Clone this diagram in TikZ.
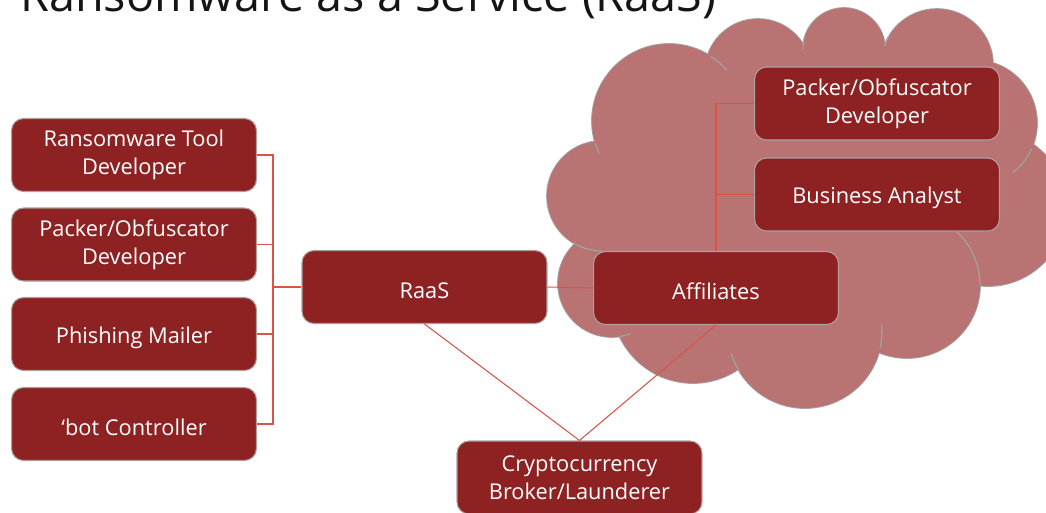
\documentclass[tikz,border=0pt]{standalone}
\usepackage{fontspec}
\setmainfont{Open Sans}
\usepackage{tikz}
\usetikzlibrary{positioning}

\definecolor{boxred}{RGB}{142,34,35}
\definecolor{boxedge}{RGB}{175,160,160}
\definecolor{tiered}{RGB}{217,83,70}
\definecolor{cloudred}{RGB}{184,115,114}
\definecolor{cloudgray}{RGB}{165,165,165}
\definecolor{titleink}{RGB}{20,20,20}

\tikzset{
  rolebox/.style={draw=boxedge, fill=boxred, text=white, line width=0.6pt,
    rounded corners=0.24cm, minimum width=4.9cm, minimum height=1.46cm,
    inner sep=0pt, align=center, font=\fontsize{12.4}{15.8}\selectfont,
    execute at begin node={\rule{0pt}{13.3pt}}},
  tie/.style={draw=tiered, line width=0.6pt},
  cloudedge/.style={draw=cloudgray, line width=1pt},
}

\begin{document}
\begin{tikzpicture}[x=0.02cm,y=-0.02cm]
\useasboundingbox (0,0) rectangle (1046,512);
\clip (0,0) rectangle (1046,512);
\node[anchor=base west, inner sep=0pt, text=titleink, font=\fontsize{26.6}{30}\selectfont] (title) at (20,11) {Ransomware as a Service (RaaS)};

\foreach \cx/\cy/\r in {602/196/55, 669/121/77, 758/72/53, 844/49/41, 937/65/56, 974/123/63, 988/208/78, 907/285/73, 805/331/77, 693/302/81, 612/283/54}
  \filldraw[cloudedge, fill=cloudred] (\cx,\cy) circle (\r);
\fill[cloudred] (602,196) -- (669,121) -- (758,72) -- (844,49) -- (937,65) -- (974,123) -- (988,208) -- (907,285) -- (805,331) -- (693,302) -- (612,283) -- cycle;
\foreach \cx/\cy/\r in {602/196/55, 669/121/77, 758/72/53, 844/49/41, 937/65/56, 974/123/63, 988/208/78, 907/285/73, 805/331/77, 693/302/81, 612/283/54}
  \fill[cloudred] (\cx,\cy) circle (\r);
\foreach \cx/\cy/\r/\a/\b in {669/121/77/163/155, 669/121/77/-57/-41, 844/49/41/179/192, 937/65/56/200/214, 974/123/63/24/52, 907/285/73/0/-47, 805/331/77/13/-5, 805/331/77/148/163, 612/283/54/82/70, 602/196/55/122/90}
  \draw[cloudedge, line width=0.6pt] (\cx,\cy) ++(\a:\r) arc[start angle=\a, end angle=\b, radius=\r];

\node[rolebox] (tooldev) at (134,155) {Ransomware Tool\\Developer};
\node[rolebox] (packleft) at (134,244.5) {Packer/Obfuscator\\Developer};
\node[rolebox] (phish) at (134,334) {Phishing Mailer};
\node[rolebox] (botctl) at (134,424) {‘bot Controller};
\node[rolebox] (raas) at (424.5,287) {RaaS};
\node[rolebox] (affil) at (716,288) {Affiliates};
\node[rolebox] (packright) at (877,103.5) {Packer/Obfuscator\\Developer};
\node[rolebox] (analyst) at (877,194.5) {Business Analyst};
\node[rolebox] (broker) at (579.5,477.5) {Cryptocurrency\\Broker/Launderer};

\draw[tie] (tooldev.east) -- ++(16,0) |- (botctl.east);
\draw[tie] (packleft.east) -- ++(16,0);
\draw[tie] (phish.east) -- ++(16,0);
\draw[tie] (raas.west) -- ++(-29,0);
\draw[tie] (raas.east) -- (affil.west);
\draw[tie] (affil.north) |- (packright.west);
\draw[tie] (affil.north |- analyst.west) -- (analyst.west);
\draw[tie] (raas.south) -- (broker.north);
\draw[tie] (affil.south) -- (broker.north);
\end{tikzpicture}
\end{document}
